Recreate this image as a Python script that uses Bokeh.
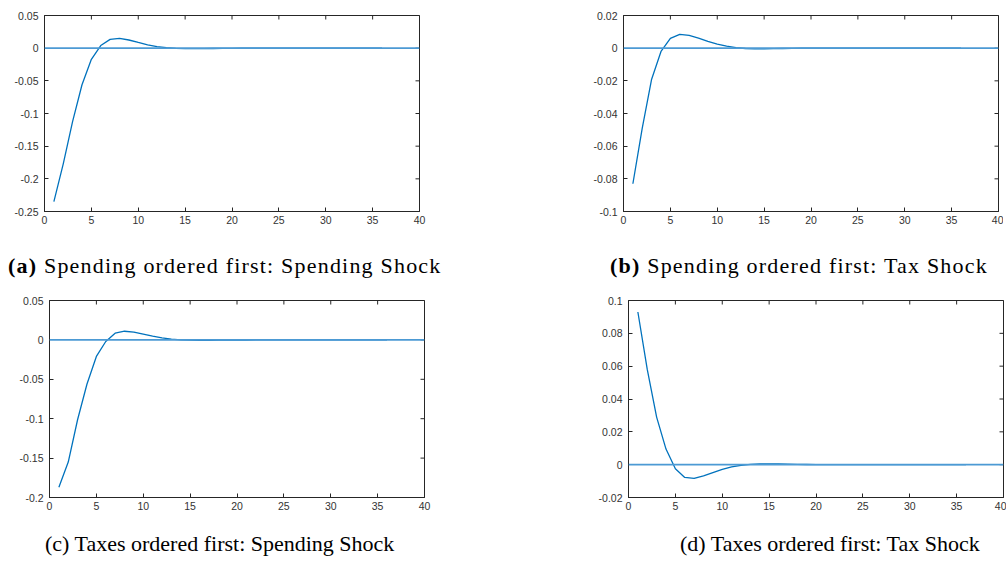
import math
from bokeh.plotting import figure
from bokeh.layouts import column, row
from bokeh.models import Div, FixedTicker, Range1d, Span
from bokeh.embed import file_html
from bokeh.resources import INLINE

# ---------------- data ----------------
periods = list(range(1, 37))

spend_first_spend_shock = [
    -0.235, -0.177, -0.112, -0.056, -0.017, 0.004, 0.0135, 0.0150, 0.0125, 0.0088,
    0.0052, 0.0025, 0.0008, -0.0002, -0.0007, -0.0008, -0.0007, -0.0005, -0.0003, -0.0002,
    -0.0001, 0.0, 0.0, 0.0, 0.0, 0.0, 0.0, 0.0, 0.0, 0.0,
    0.0, 0.0, 0.0, 0.0, 0.0, 0.0]

spend_first_tax_shock = [
    -0.083, -0.049, -0.019, -0.002, 0.0060, 0.0085, 0.0078, 0.0062, 0.0042, 0.0025,
    0.0012, 0.0003, -0.0002, -0.0004, -0.0004, -0.0003, -0.0002, -0.0001, 0.0, 0.0,
    0.0, 0.0, 0.0, 0.0, 0.0, 0.0, 0.0, 0.0, 0.0, 0.0,
    0.0, 0.0, 0.0, 0.0, 0.0, 0.0]

tax_first_spend_shock = [
    -0.187, -0.155, -0.101, -0.056, -0.021, -0.002, 0.0085, 0.0110, 0.0098, 0.0073,
    0.0047, 0.0025, 0.0010, 0.0001, -0.0004, -0.0005, -0.0005, -0.0004, -0.0003, -0.0002,
    -0.0001, 0.0, 0.0, 0.0, 0.0, 0.0, 0.0, 0.0, 0.0, 0.0,
    0.0, 0.0, 0.0, 0.0, 0.0, 0.0]

tax_first_tax_shock = [
    0.093, 0.058, 0.029, 0.0095, -0.0025, -0.0078, -0.0083, -0.0068, -0.0048, -0.0029,
    -0.0014, -0.0004, 0.0002, 0.0005, 0.0005, 0.0004, 0.0003, 0.0002, 0.0001, 0.0,
    0.0, 0.0, 0.0, 0.0, 0.0, 0.0, 0.0, 0.0, 0.0, 0.0,
    0.0, 0.0, 0.0, 0.0, 0.0, 0.0]

x_ticks = [0, 5, 10, 15, 20, 25, 30, 35, 40]
x_labels = ["0", "5", "10", "15", "20", "25", "30", "35", "40"]

a_yticks = [-0.25, -0.2, -0.15, -0.1, -0.05, 0, 0.05]
a_ylabels = ["-0.25", "-0.2", "-0.15", "-0.1", "-0.05", "0", "0.05"]
b_yticks = [-0.1, -0.08, -0.06, -0.04, -0.02, 0, 0.02]
b_ylabels = ["-0.1", "-0.08", "-0.06", "-0.04", "-0.02", "0", "0.02"]
c_yticks = [-0.2, -0.15, -0.1, -0.05, 0, 0.05]
c_ylabels = ["-0.2", "-0.15", "-0.1", "-0.05", "0", "0.05"]
d_yticks = [-0.02, 0, 0.02, 0.04, 0.06, 0.08, 0.1]
d_ylabels = ["-0.02", "0", "0.02", "0.04", "0.06", "0.08", "0.1"]

captions = [
    ("(a)", "Spending ordered first: Spending Shock"),
    ("(b)", "Spending ordered first: Tax Shock"),
    ("(c)", "Taxes ordered first: Spending Shock"),
    ("(d)", "Taxes ordered first: Tax Shock"),
]

# ---------------- styling ----------------
AX = "#262626"
LINE = "#0072BD"
ZERO = "#4c9ad4"
TICK_FONT = "Liberation Sans"
CAP_FONT = "Liberation Serif"


def panel(vals, yticks, ylabels, bl, br, bt, bb, fh):
    p = figure(frame_width=375, frame_height=fh,
               x_range=Range1d(x_ticks[0], x_ticks[-1]),
               y_range=Range1d(yticks[0], yticks[-1]),
               output_backend="svg", toolbar_location=None,
               min_border_left=bl, min_border_right=br,
               min_border_top=bt, min_border_bottom=bb)
    p.grid.visible = False
    p.outline_line_color = AX
    p.outline_line_width = 1
    p.background_fill_color = "white"
    p.border_fill_color = "white"

    p.xaxis.ticker = FixedTicker(ticks=x_ticks)
    p.xaxis.major_label_overrides = {t: l for t, l in zip(x_ticks, x_labels)}
    p.yaxis.ticker = FixedTicker(ticks=yticks)
    p.yaxis.major_label_overrides = {t: l for t, l in zip(yticks, ylabels)}
    for ax in (p.xaxis, p.yaxis):
        ax.axis_line_color = AX
        ax.major_tick_line_color = AX
        ax.major_tick_in = 4
        ax.major_tick_out = 0
        ax.minor_tick_line_color = None
        ax.major_label_text_font = TICK_FONT
        ax.major_label_text_font_size = "10.5px"
        ax.major_label_text_color = "#333333"
    p.xaxis.major_label_standoff = 4
    p.yaxis.major_label_standoff = 6

    # inward ticks on the top and right box edges
    p.scatter(x=x_ticks, y=[yticks[-1]] * len(x_ticks), marker="dash", size=8,
              angle=math.pi / 2, line_color=AX, line_width=1)
    p.scatter(x=[x_ticks[-1]] * len(yticks), y=yticks, marker="dash", size=8,
              angle=0, line_color=AX, line_width=1)

    p.add_layout(Span(location=0, dimension="width", line_color=ZERO, line_width=1.7))
    p.line(periods, vals, line_color=LINE, line_width=1.3)
    return p


pa = panel(spend_first_spend_shock, a_yticks, a_ylabels, 44, 20, 15, 22, 196)
pb = panel(spend_first_tax_shock, b_yticks, b_ylabels, 184, 5, 15, 22, 196)
pc = panel(tax_first_spend_shock, c_yticks, c_ylabels, 49, 20, 14, 22, 197)
pd = panel(tax_first_tax_shock, d_yticks, d_ylabels, 184, 3, 14, 22, 197)


def cap_span(lbl, txt, left, top, bold, spacing):
    w = "bold" if bold else "normal"
    return (f'<span style="position:absolute;left:{left}px;top:{top}px;white-space:nowrap;'
            f'letter-spacing:{spacing}px;">'
            f'<span style="font-weight:{w}">{lbl}</span> {txt}</span>')


def cap_row(items, height):
    inner = "".join(items)
    return Div(text=(f'<div style="position:relative;width:1000px;height:{height}px;'
                     f'font-family:\'{CAP_FONT}\';font-size:22px;line-height:22px;color:#000;">'
                     f'{inner}</div>'), width=1000, height=height, margin=0)


cap1 = cap_row([cap_span(captions[0][0], captions[0][1], 8, 22, True, 1.2),
                cap_span(captions[1][0], captions[1][1], 610, 22, True, 1.2)], 53)
cap2 = cap_row([cap_span(captions[2][0], captions[2][1], 45, 14, False, 0),
                cap_span(captions[3][0], captions[3][1], 680, 14, False, 0)], 38)

layout = column(row(pa, pb), cap1, row(pc, pd), cap2)

open("out.html", "w").write(file_html(layout, INLINE))
